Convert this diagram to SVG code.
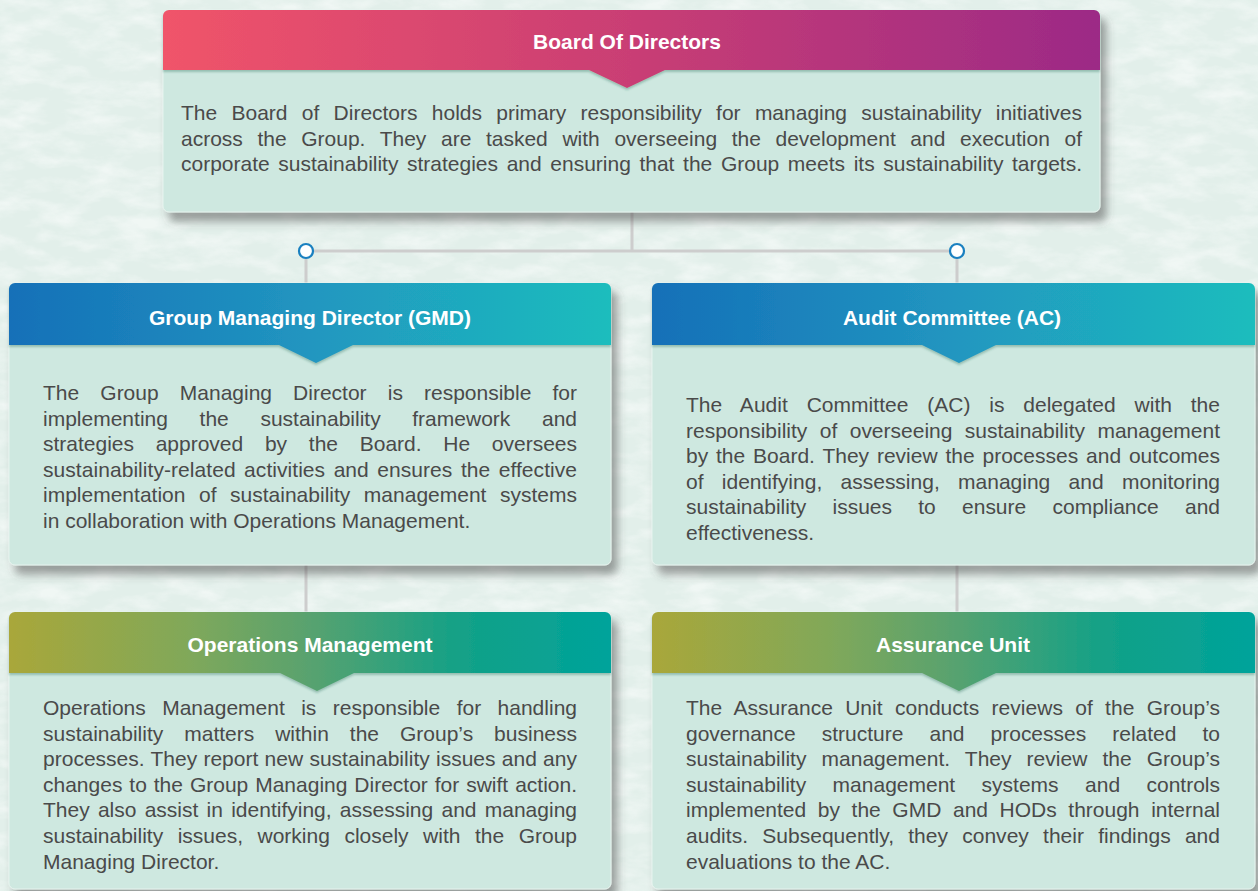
<svg xmlns="http://www.w3.org/2000/svg" width="1258" height="891" viewBox="0 0 1258 891">
  <defs>
    <linearGradient id="gradBoard" x1="0" y1="0" x2="1" y2="0">
      <stop offset="0" stop-color="#f0546a"/>
      <stop offset="0.5" stop-color="#c93e74"/>
      <stop offset="1" stop-color="#9c2a86"/>
    </linearGradient>
    <linearGradient id="gradBlue" x1="0" y1="0" x2="1" y2="0">
      <stop offset="0" stop-color="#1570b8"/>
      <stop offset="0.5" stop-color="#2196c0"/>
      <stop offset="1" stop-color="#1dbdbd"/>
    </linearGradient>
    <linearGradient id="gradGreen" x1="0" y1="0" x2="1" y2="0">
      <stop offset="0" stop-color="#a9a73a"/>
      <stop offset="0.3" stop-color="#80a85a"/>
      <stop offset="0.5" stop-color="#58a26f"/>
      <stop offset="0.75" stop-color="#13a187"/>
      <stop offset="1" stop-color="#00a39b"/>
    </linearGradient>
    <filter id="cardShadow" x="-5%" y="-5%" width="112%" height="120%">
      <feDropShadow dx="6" dy="9" stdDeviation="4" flood-color="#4a4a4a" flood-opacity="0.5"/>
    </filter>
    <filter id="headShadow" x="-2%" y="-5%" width="104%" height="130%">
      <feDropShadow dx="0" dy="2" stdDeviation="1" flood-color="#2f6e5c" flood-opacity="0.35"/>
    </filter>
    <filter id="grain" x="0" y="0" width="100%" height="100%">
      <feTurbulence type="fractalNoise" baseFrequency="0.025 0.06" numOctaves="4" seed="7" result="n"/>
      <feColorMatrix in="n" type="matrix" values="0 0 0 0 1  0 0 0 0 1  0 0 0 0 1  2.4 0 0 0 -0.95"/>
    </filter>
    <style>
      .bg { fill: #e2efea; }
      .card { fill: #cee8e0; stroke: #e6f3ee; stroke-width: 1; }
      .head { font-family: "Liberation Sans", Arial, sans-serif; font-weight: bold; font-size: 21px; fill: #ffffff; text-anchor: middle; }
      .body { font-family: "Liberation Sans", Arial, sans-serif; font-size: 21px; fill: #4a4a4a; }
      .link { stroke: #cdcdcd; stroke-width: 3; fill: none; }
      .dot { fill: #ffffff; stroke: #1a80c0; stroke-width: 2.2; }
    </style>
  </defs>

  <!-- paper background -->
  <rect class="bg" x="0" y="0" width="1258" height="891"/>
  <rect x="0" y="0" width="1258" height="891" filter="url(#grain)" opacity="0.5"/>

  <!-- connectors -->
  <g id="connectors">
    <path class="link" d="M632,212 V251"/>
    <path class="link" d="M306,251 H957"/>
    <path class="link" d="M306,251 V283"/>
    <path class="link" d="M957,251 V283"/>
    <path class="link" d="M306,565 V612"/>
    <path class="link" d="M957,565 V612"/>
    <circle class="dot" cx="306" cy="251" r="7"/>
    <circle class="dot" cx="957" cy="251" r="7"/>
  </g>

  <!-- Board of Directors -->
  <g id="board">
    <rect class="card" x="163" y="10" width="937" height="202" rx="6" filter="url(#cardShadow)"/>
    <path d="M163,16 a6,6 0 0 1 6,-6 H1094 a6,6 0 0 1 6,6 V70 H665 L627,88 L589,70 H163 Z" fill="url(#gradBoard)" filter="url(#headShadow)"/>
    <text class="head" x="627" y="49">Board Of Directors</text>
    <text class="body" x="181" y="120" textLength="901" lengthAdjust="spacing" style="word-spacing:8.5px">The Board of Directors holds primary responsibility for managing sustainability initiatives</text>
    <text class="body" x="181" y="145.5" textLength="901" lengthAdjust="spacing" style="word-spacing:8.8px">across the Group. They are tasked with overseeing the development and execution of</text>
    <text class="body" x="181" y="171" textLength="901" lengthAdjust="spacing" style="word-spacing:2.8px">corporate sustainability strategies and ensuring that the Group meets its sustainability targets.</text>
  </g>

  <!-- Group Managing Director -->
  <g id="gmd">
    <rect class="card" x="9" y="283" width="602" height="282" rx="6" filter="url(#cardShadow)"/>
    <path d="M9,289 a6,6 0 0 1 6,-6 H605 a6,6 0 0 1 6,6 V345 H353 L316,363 L279,345 H9 Z" fill="url(#gradBlue)" filter="url(#headShadow)"/>
    <text class="head" x="310" y="325">Group Managing Director (GMD)</text>
    <text class="body" x="43" y="400" textLength="534" lengthAdjust="spacing" style="word-spacing:15.3px">The Group Managing Director is responsible for</text>
    <text class="body" x="43" y="425.6" textLength="534" lengthAdjust="spacing" style="word-spacing:25.8px">implementing the sustainability framework and</text>
    <text class="body" x="43" y="451.2" textLength="534" lengthAdjust="spacing" style="word-spacing:15.9px">strategies approved by the Board. He oversees</text>
    <text class="body" x="43" y="476.8" textLength="534" lengthAdjust="spacing" style="word-spacing:2.6px">sustainability-related activities and ensures the effective</text>
    <text class="body" x="43" y="502.4" textLength="534" lengthAdjust="spacing" style="word-spacing:7.7px">implementation of sustainability management systems</text>
    <text class="body" x="43" y="528">in collaboration with Operations Management.</text>
  </g>

  <!-- Audit Committee -->
  <g id="ac">
    <rect class="card" x="652" y="283" width="603" height="282" rx="6" filter="url(#cardShadow)"/>
    <path d="M652,289 a6,6 0 0 1 6,-6 H1249 a6,6 0 0 1 6,6 V345 H996 L959,363 L922,345 H652 Z" fill="url(#gradBlue)" filter="url(#headShadow)"/>
    <text class="head" x="952" y="325">Audit Committee (AC)</text>
    <text class="body" x="686" y="412" textLength="534" lengthAdjust="spacing" style="word-spacing:12.9px">The Audit Committee (AC) is delegated with the</text>
    <text class="body" x="686" y="437.6" textLength="534" lengthAdjust="spacing" style="word-spacing:6.6px">responsibility of overseeing sustainability management</text>
    <text class="body" x="686" y="463.2" textLength="534" lengthAdjust="spacing" style="word-spacing:2px">by the Board. They review the processes and outcomes</text>
    <text class="body" x="686" y="488.8" textLength="534" lengthAdjust="spacing" style="word-spacing:12.5px">of identifying, assessing, managing and monitoring</text>
    <text class="body" x="686" y="514.4" textLength="534" lengthAdjust="spacing" style="word-spacing:20.4px">sustainability issues to ensure compliance and</text>
    <text class="body" x="686" y="540">effectiveness.</text>
  </g>

  <!-- Operations Management -->
  <g id="ops">
    <rect class="card" x="9" y="612" width="602" height="277" rx="6" filter="url(#cardShadow)"/>
    <path d="M9,618 a6,6 0 0 1 6,-6 H605 a6,6 0 0 1 6,6 V673 H354 L317,691 L280,673 H9 Z" fill="url(#gradGreen)" filter="url(#headShadow)"/>
    <text class="head" x="310" y="652">Operations Management</text>
    <text class="body" x="43" y="715" textLength="534" lengthAdjust="spacing" style="word-spacing:10.6px">Operations Management is responsible for handling</text>
    <text class="body" x="43" y="740.6" textLength="534" lengthAdjust="spacing" style="word-spacing:15.1px">sustainability matters within the Group’s business</text>
    <text class="body" x="43" y="766.2" textLength="534" lengthAdjust="spacing" style="word-spacing:0.4px">processes. They report new sustainability issues and any</text>
    <text class="body" x="43" y="791.8" textLength="534" lengthAdjust="spacing" style="word-spacing:1.1px">changes to the Group Managing Director for swift action.</text>
    <text class="body" x="43" y="817.4" textLength="534" lengthAdjust="spacing" style="word-spacing:2.4px">They also assist in identifying, assessing and managing</text>
    <text class="body" x="43" y="843" textLength="534" lengthAdjust="spacing" style="word-spacing:8.7px">sustainability issues, working closely with the Group</text>
    <text class="body" x="43" y="868.6">Managing Director.</text>
  </g>

  <!-- Assurance Unit -->
  <g id="assurance">
    <rect class="card" x="652" y="612" width="603" height="277" rx="6" filter="url(#cardShadow)"/>
    <path d="M652,618 a6,6 0 0 1 6,-6 H1249 a6,6 0 0 1 6,6 V673 H996 L959,691 L922,673 H652 Z" fill="url(#gradGreen)" filter="url(#headShadow)"/>
    <text class="head" x="953" y="652">Assurance Unit</text>
    <text class="body" x="686" y="715" textLength="534" lengthAdjust="spacing" style="word-spacing:6.4px">The Assurance Unit conducts reviews of the Group’s</text>
    <text class="body" x="686" y="740.6" textLength="534" lengthAdjust="spacing" style="word-spacing:20.2px">governance structure and processes related to</text>
    <text class="body" x="686" y="766.2" textLength="534" lengthAdjust="spacing" style="word-spacing:9.2px">sustainability management. They review the Group’s</text>
    <text class="body" x="686" y="791.8" textLength="534" lengthAdjust="spacing" style="word-spacing:20.6px">sustainability management systems and controls</text>
    <text class="body" x="686" y="817.4" textLength="534" lengthAdjust="spacing" style="word-spacing:5.8px">implemented by the GMD and HODs through internal</text>
    <text class="body" x="686" y="843" textLength="534" lengthAdjust="spacing" style="word-spacing:8.3px">audits. Subsequently, they convey their findings and</text>
    <text class="body" x="686" y="868.6">evaluations to the AC.</text>
  </g>
</svg>
